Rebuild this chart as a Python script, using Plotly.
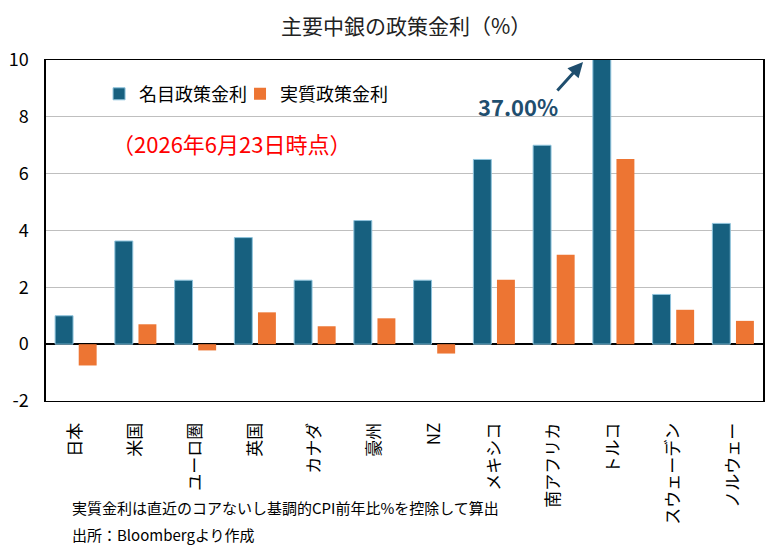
import plotly.graph_objects as go

categories = ["日本", "米国", "ユーロ圏", "英国", "カナダ", "豪州", "NZ",
              "メキシコ", "南アフリカ", "トルコ", "スウェーデン", "ノルウェー"]
nominal = [1.00, 3.63, 2.25, 3.75, 2.25, 4.35, 2.25, 6.50, 7.00, 37.00, 1.75, 4.25]
real = [-0.75, 0.70, -0.22, 1.12, 0.63, 0.91, -0.33, 2.27, 3.15, 6.52, 1.21, 0.82]
series_names = ["名目政策金利", "実質政策金利"]
y_ticks = [-2, 0, 2, 4, 6, 8, 10]
y_ticktext = ["-2", "0", "2", "4", "6", "8", "10"]

FONT = "Noto Sans CJK JP"

fig = go.Figure()
fig.add_trace(go.Bar(
    x=categories, y=nominal, name=series_names[0], legend="legend",
    marker=dict(color="#17607F", line=dict(color="#8EC3DC", width=1)),
))
fig.add_trace(go.Bar(
    x=categories, y=real, name=series_names[1], legend="legend2",
    marker=dict(color="#ED7533", line=dict(width=0)),
))

legend_common = dict(orientation="h", y=0.90, xanchor="left", yanchor="middle",
                     font=dict(size=18), bgcolor="rgba(0,0,0,0)")

fig.update_layout(
    width=778, height=553,
    margin=dict(l=46, r=15, t=60, b=152, autoexpand=False),
    paper_bgcolor="white", plot_bgcolor="white",
    font=dict(family=FONT, size=14, color="black"),
    title=dict(text="主要中銀の政策金利（%）", x=0.522, xanchor="center",
               y=0.952, yanchor="middle", font=dict(size=21, color="#222")),
    barmode="group", bargap=0.21, bargroupgap=0.24,
    showlegend=True,
    legend=dict(x=0.074, **legend_common),
    legend2=dict(x=0.2706, **legend_common),
    xaxis=dict(
        tickvals=categories, ticktext=categories, automargin=False,
        showline=True, linecolor="black", linewidth=1, mirror=True,
        ticks="", showgrid=False, tickangle=-90,
        ticklabelstandoff=14, tickfont=dict(size=17),
    ),
    yaxis=dict(
        range=[-2, 10], tickvals=y_ticks, ticktext=y_ticktext, automargin=False,
        showline=True, linecolor="black", linewidth=1.5, mirror=True,
        showgrid=True, gridcolor="#BFBFBF", gridwidth=1,
        zeroline=True, zerolinecolor="black", zerolinewidth=1.5,
        ticks="", ticklabelstandoff=12, tickfont=dict(size=18),
    ),
    annotations=[
        dict(text="（2026年6月23日時点）", xref="paper", yref="paper",
             x=0.259, y=0.757, xanchor="center", yanchor="middle",
             showarrow=False, font=dict(size=22, color="#FF0000")),
        dict(text="<b>37.00%</b>", xref="paper", yref="paper",
             x=0.658, y=0.865, xanchor="center", yanchor="middle",
             showarrow=False, font=dict(size=22, color="#1F4E6E", family=FONT)),
        dict(text="", xref="paper", yref="paper",
             x=0.749, y=0.994, ax=-27, ay=30, showarrow=True,
             arrowhead=2, arrowsize=1, arrowwidth=3, arrowcolor="#1F4E6E"),
        dict(text="実質金利は直近のコアないし基調的CPI前年比%を控除して算出",
             xref="paper", yref="paper", x=(70 - 46) / 717, y=(401 - 507) / 341,
             xanchor="left", yanchor="middle", showarrow=False,
             font=dict(size=15)),
        dict(text="出所：Bloombergより作成",
             xref="paper", yref="paper", x=(70 - 46) / 717, y=(401 - 534) / 341,
             xanchor="left", yanchor="middle", showarrow=False,
             font=dict(size=15)),
    ],
)

fig.write_html("out.html")
